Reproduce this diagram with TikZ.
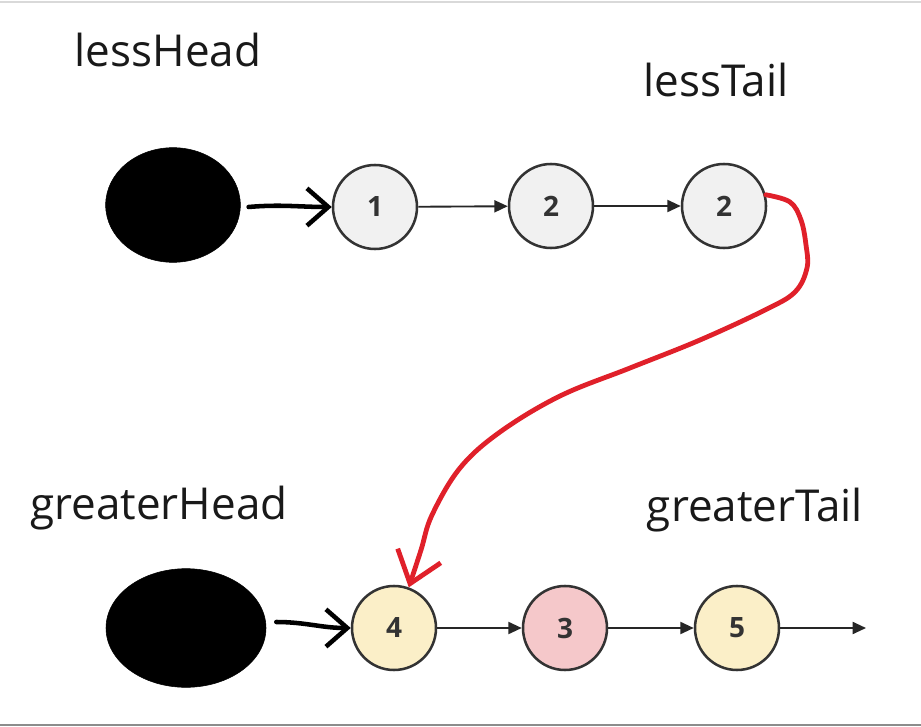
\documentclass[tikz,border=0pt]{standalone}
\usepackage{fontspec}
\setmainfont{Open Sans}
\usetikzlibrary{arrows.meta, shapes.geometric}
\definecolor{nodegray}{HTML}{F1F1F1}
\definecolor{nodeyellow}{HTML}{FBEFC8}
\definecolor{nodepink}{HTML}{F5C8CA}
\definecolor{penred}{HTML}{E0202A}
\tikzset{
  listnode/.style={circle, draw=black!80, line width=1.9pt, minimum size=63pt,
    inner sep=0pt, font=\fontsize{21}{21}\selectfont\bfseries, text=black!80},
  namelabel/.style={font=\fontsize{33}{33}\selectfont, text=black!90},
  headblob/.style={ellipse, fill=black, draw=black, inner sep=0pt},
  link/.style={-{Triangle[length=10pt, width=9pt]}, line width=1.4pt, black!85},
  handarrow/.style={-{Straight Barb[length=16pt, width=28pt, line width=3.4pt]},
    line width=3.4pt, line cap=round},
}
\begin{document}
\begin{tikzpicture}[x=0.75pt, y=-0.75pt]
    \useasboundingbox (0, 0) rectangle (921, 727);
    \fill[white] (0, 0) rectangle (921, 727);
    \draw[black!15, line width=1.5pt] (0, 2) -- (921, 2);
    \draw[black!45, line width=2pt] (0, 725) -- (921, 725);
    % labels
    \node[namelabel] (lessHead) at (168, 50) {lessHead};
    \node[namelabel] (lessTail) at (716, 80) {lessTail};
    \node[namelabel] (greaterHead) at (159, 508) {greaterHead};
    \node[namelabel] (greaterTail) at (755, 510) {greaterTail};
    % less list
    \node[headblob, minimum width=101pt, minimum height=86pt] (lhead) at (173, 205) {};
    \node[listnode, fill=nodegray] (l1) at (375, 207) {1};
    \node[listnode, fill=nodegray] (l2) at (551, 206) {2};
    \node[listnode, fill=nodegray] (l3) at (724, 206) {2};
    \draw[handarrow] (lhead.east) ++(8, 2) to[out=5, in=180] (l1.west);
    \draw[link] (l1) -- (l2);
    \draw[link] (l2) -- (l3);
    % greater list
    \node[headblob, minimum width=120pt, minimum height=89pt] (ghead) at (186, 628) {};
    \node[listnode, fill=nodeyellow] (g1) at (394, 628) {4};
    \node[listnode, fill=nodepink] (g2) at (565, 628) {3};
    \node[listnode, fill=nodeyellow] (g3) at (737, 628) {5};
    \coordinate (gend) at (866, 628);
    \draw[handarrow] (ghead.east) ++(10, -6) to[out=0, in=180] (g1.west);
    \draw[link] (g1) -- (g2);
    \draw[link] (g2) -- (g3);
    \draw[link] (g3) -- (gend);
    % red hand-drawn link
    \draw[penred, line width=3.6pt, line cap=round, line join=round,
      -{Straight Barb[length=22pt, width=34pt, line width=3.6pt]}]
      plot[smooth, tension=0.6] coordinates {(l3.15) (790, 202) (801, 220) (806, 245)
        (807, 268) (795, 292) (765, 310) (700, 340) (630, 368) (560, 396)
        (500, 432) (460, 468) (432, 515) (421, 550) (g1.70)};
\end{tikzpicture}
\end{document}
